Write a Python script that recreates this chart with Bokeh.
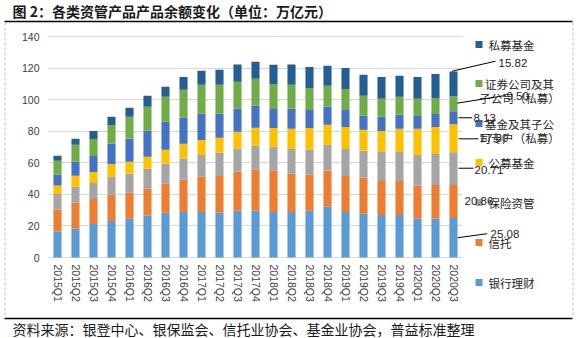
from bokeh.plotting import figure
from bokeh.models import (Label, Arrow, Range1d, ColumnDataSource, FixedTicker,
                          SingleIntervalTicker, BoxAnnotation)
from bokeh.embed import file_html
from bokeh.resources import INLINE

# ---------------- data ----------------
quarters = ["2015Q1", "2015Q2", "2015Q3", "2015Q4", "2016Q1", "2016Q2", "2016Q3", "2016Q4",
            "2017Q1", "2017Q2", "2017Q3", "2017Q4", "2018Q1", "2018Q2", "2018Q3", "2018Q4",
            "2019Q1", "2019Q2", "2019Q3", "2019Q4", "2020Q1", "2020Q2", "2020Q3"]
bank = [16.5, 18.2, 21.3, 23.2, 24.5, 26.6, 28.3, 28.9, 28.9, 28.3, 29.6, 29.6,
        28.9, 28.9, 29.6, 32.1, 28.9, 27.7, 27.0, 27.0, 24.5, 24.5, 25.08]
trust = [13.7, 16.5, 15.8, 16.5, 16.5, 16.9, 18.4, 20.3, 22.2, 23.4, 24.7, 26.0,
         26.0, 24.1, 22.8, 22.8, 22.8, 22.8, 21.5, 21.5, 21.1, 21.5, 20.86]
insurance = [10.1, 10.1, 10.1, 11.4, 12.0, 12.7, 12.7, 13.3, 13.9, 14.6, 14.6, 15.2,
             15.2, 15.8, 15.8, 16.5, 17.1, 17.1, 18.4, 18.4, 19.4, 19.6, 20.71]
public_fund = [5.3, 7.0, 7.0, 8.2, 7.6, 7.6, 8.9, 9.5, 9.5, 9.5, 10.8, 11.4,
               12.0, 12.7, 13.9, 12.7, 13.9, 13.3, 13.3, 14.6, 16.5, 17.1, 17.80]
fund_sub = [6.8, 8.9, 10.1, 12.7, 14.6, 16.5, 17.7, 16.5, 16.5, 15.2, 14.6, 13.9,
            12.0, 12.7, 11.4, 11.4, 10.8, 8.9, 8.9, 8.9, 8.2, 8.2, 8.13]
securities = [8.9, 10.8, 10.8, 12.0, 13.9, 15.2, 15.8, 17.7, 18.4, 18.4, 17.1, 17.1,
              15.8, 15.2, 13.9, 13.3, 13.3, 12.7, 11.4, 11.4, 10.8, 10.1, 9.50]
private = [3.2, 3.8, 5.1, 5.1, 5.7, 7.0, 6.3, 8.2, 8.9, 9.5, 10.8, 10.8,
           12.2, 12.9, 13.3, 12.7, 13.3, 13.3, 13.9, 13.3, 13.9, 15.2, 15.82]

series_keys = ["bank", "trust", "insurance", "public_fund", "fund_sub", "securities", "private"]
series_values = [bank, trust, insurance, public_fund, fund_sub, securities, private]
legend_lines = [["银行理财"], ["信托"], ["保险资管"], ["公募基金"],
                ["基金及其子公", "司专户（私募）"], ["证券公司及其", "子公司（私募）"], ["私募基金"]]
colors = ["#5B9BD5", "#ED7D31", "#A5A5A5", "#FFC000", "#4472C4", "#70AD47", "#255E91"]
y_tick_interval = 20
y_axis_max = 140
title_text = "图 2：各类资管产品产品余额变化（单位：万亿元）"
source_text = "资料来源：银登中心、银保监会、信托业协会、基金业协会，普益标准整理"

# ---------------- layout (pixels) ----------------
W, H = 579, 338
FL, FR, FT, FB = 48, 462, 36, 257      # plot area inside the canvas
n = len(quarters)
PXX = (FR - FL) / n
PXY = (FB - FT) / y_axis_max
X0 = -0.5 - FL / PXX
X1 = -0.5 + (W - FL) / PXX
Y0 = -(H - FB) / PXY
Y1 = FB / PXY


def dx(sx):
    return X0 + sx / PXX


def dy(sy):
    return (FB - sy) / PXY


CJK = "Noto Sans CJK SC"
SANS = "Liberation Sans"

p = figure(width=W, height=H, x_range=Range1d(X0, X1), y_range=Range1d(Y0, Y1),
           output_backend="svg", toolbar_location=None, title=None,
           min_border_left=0, min_border_right=0, min_border_top=0, min_border_bottom=0)
p.outline_line_color = None
p.background_fill_color = "white"
p.border_fill_color = "white"

data = {"x": list(range(n))}
for k, v in zip(series_keys, series_values):
    data[k] = v
src = ColumnDataSource(data)
p.vbar_stack(series_keys, x="x", width=0.45, color=colors, line_color=None, source=src)

# axes (drawn at fixed locations inside the canvas)
p.yaxis.ticker = SingleIntervalTicker(interval=y_tick_interval, num_minor_ticks=0)
p.yaxis.bounds = (0, y_axis_max)
p.yaxis.fixed_location = -0.5
p.yaxis.axis_line_color = None
p.yaxis.major_tick_line_color = None
p.yaxis.minor_tick_line_color = None
p.yaxis.major_tick_out = 0
p.yaxis.major_label_standoff = 9
p.yaxis.major_label_text_font = SANS
p.yaxis.major_label_text_font_size = "10.5px"
p.yaxis.major_label_text_color = "#404040"

p.xaxis.ticker = FixedTicker(ticks=list(range(n)))
p.xaxis.major_label_overrides = {i: q for i, q in enumerate(quarters)}
p.xaxis.bounds = (-0.5, n - 0.5)
p.xaxis.fixed_location = 0
p.xaxis.axis_line_color = None
p.xaxis.major_tick_line_color = None
p.xaxis.minor_tick_line_color = None
p.xaxis.major_tick_out = 0
p.xaxis.major_label_standoff = 7
p.xaxis.major_label_orientation = "vertical"
p.xaxis.major_label_text_font = SANS
p.xaxis.major_label_text_font_size = "10.5px"
p.xaxis.major_label_text_color = "#404040"

p.xgrid.grid_line_color = None
p.ygrid.grid_line_color = "#D9D9D9"
p.ygrid.grid_line_width = 1
p.ygrid.bounds = (0, y_axis_max)
try:
    p.ygrid.cross_bounds = (-0.5, n - 0.5)
except Exception:
    p.ygrid.grid_line_color = None
    yt = list(range(0, y_axis_max + 1, y_tick_interval))
    p.segment(x0=[-0.5] * len(yt), x1=[n - 0.5] * len(yt), y0=yt, y1=yt,
              line_color="#D9D9D9", line_width=1, level="underlay")

# page decorations
p.add_layout(Label(x=dx(12), y=dy(10), text=title_text, text_font=CJK, text_font_size="14px",
                   text_font_style="bold", text_baseline="middle", text_align="left",
                   text_color="#1a1a1a"))
p.add_layout(Label(x=dx(12), y=dy(328), text=source_text, text_font=CJK, text_font_size="14px",
                   text_baseline="middle", text_align="left", text_color="#1a1a1a"))
for (x0, y0, x1, y1, col, lw, dash) in [
        (4, 21, 572, 21, "black", 1.6, "solid"),
        (4, 318, 572, 318, "black", 1.6, "solid"),
        (4.5, 22, 4.5, 317, "#C0C0C0", 1, "3 2"),
        (572.5, 22, 572.5, 317, "#C0C0C0", 1, "3 2")]:
    p.add_layout(Arrow(end=None, x_start=dx(x0), y_start=dy(y0), x_end=dx(x1), y_end=dy(y1),
                       line_color=col, line_width=lw, line_dash=dash))

# legend (manual, top to bottom: reversed series order)
leg_y = [44, 83, 123, 162, 202, 242, 282]
for i, (lines, col) in enumerate(zip(legend_lines[::-1], colors[::-1])):
    yc = leg_y[i]
    p.add_layout(BoxAnnotation(left=dx(475), right=dx(482), top=dy(yc - 3.5), bottom=dy(yc + 3.5),
                               fill_color=col, fill_alpha=1, line_color=None))
    if len(lines) == 1:
        p.add_layout(Label(x=dx(488), y=dy(yc), text=lines[0], text_font=CJK,
                           text_font_size="11.5px", text_baseline="middle", text_align="left",
                           text_color="#262626"))
    else:
        for j, t in enumerate(lines):
            p.add_layout(Label(x=dx(519), y=dy(yc + 14 * j), text=t, text_font=CJK,
                               text_font_size="11.5px", text_baseline="middle",
                               text_align="center", text_color="#262626"))

# data labels on last bar
last = [v[-1] for v in series_values]
lab_dx = [37, 11, 21, 26, 20, 53, 45]
lab_dy = [-4, 0, 1, 0, 0, -8, -21]
lead = [((4.3, 0), (33.7, -4)), None, ((5, -0.4), (20, -0.4)), ((5, 0.6), (25, 0.6)),
        ((5, 0), (18.7, 0)), ((3.7, -0.7), (52, -8.4)), ((-1.3, -12.7), (42, -22.7))]
xc = n - 1
cum = 0.0
for i, v in enumerate(last):
    mid = cum + v / 2
    cum += v
    p.add_layout(Label(x=xc + lab_dx[i] / PXX, y=mid - lab_dy[i] / PXY, text="%.2f" % v,
                       text_font=SANS, text_font_size="11.5px", text_baseline="middle",
                       text_align="left", text_color="#262626"))
    if lead[i] is not None:
        (a, b), (c, d) = lead[i]
        p.add_layout(Arrow(end=None, x_start=xc + a / PXX, y_start=mid - b / PXY,
                           x_end=xc + c / PXX, y_end=mid - d / PXY,
                           line_color="black", line_width=1))

open("out.html", "w").write(file_html(p, INLINE))
